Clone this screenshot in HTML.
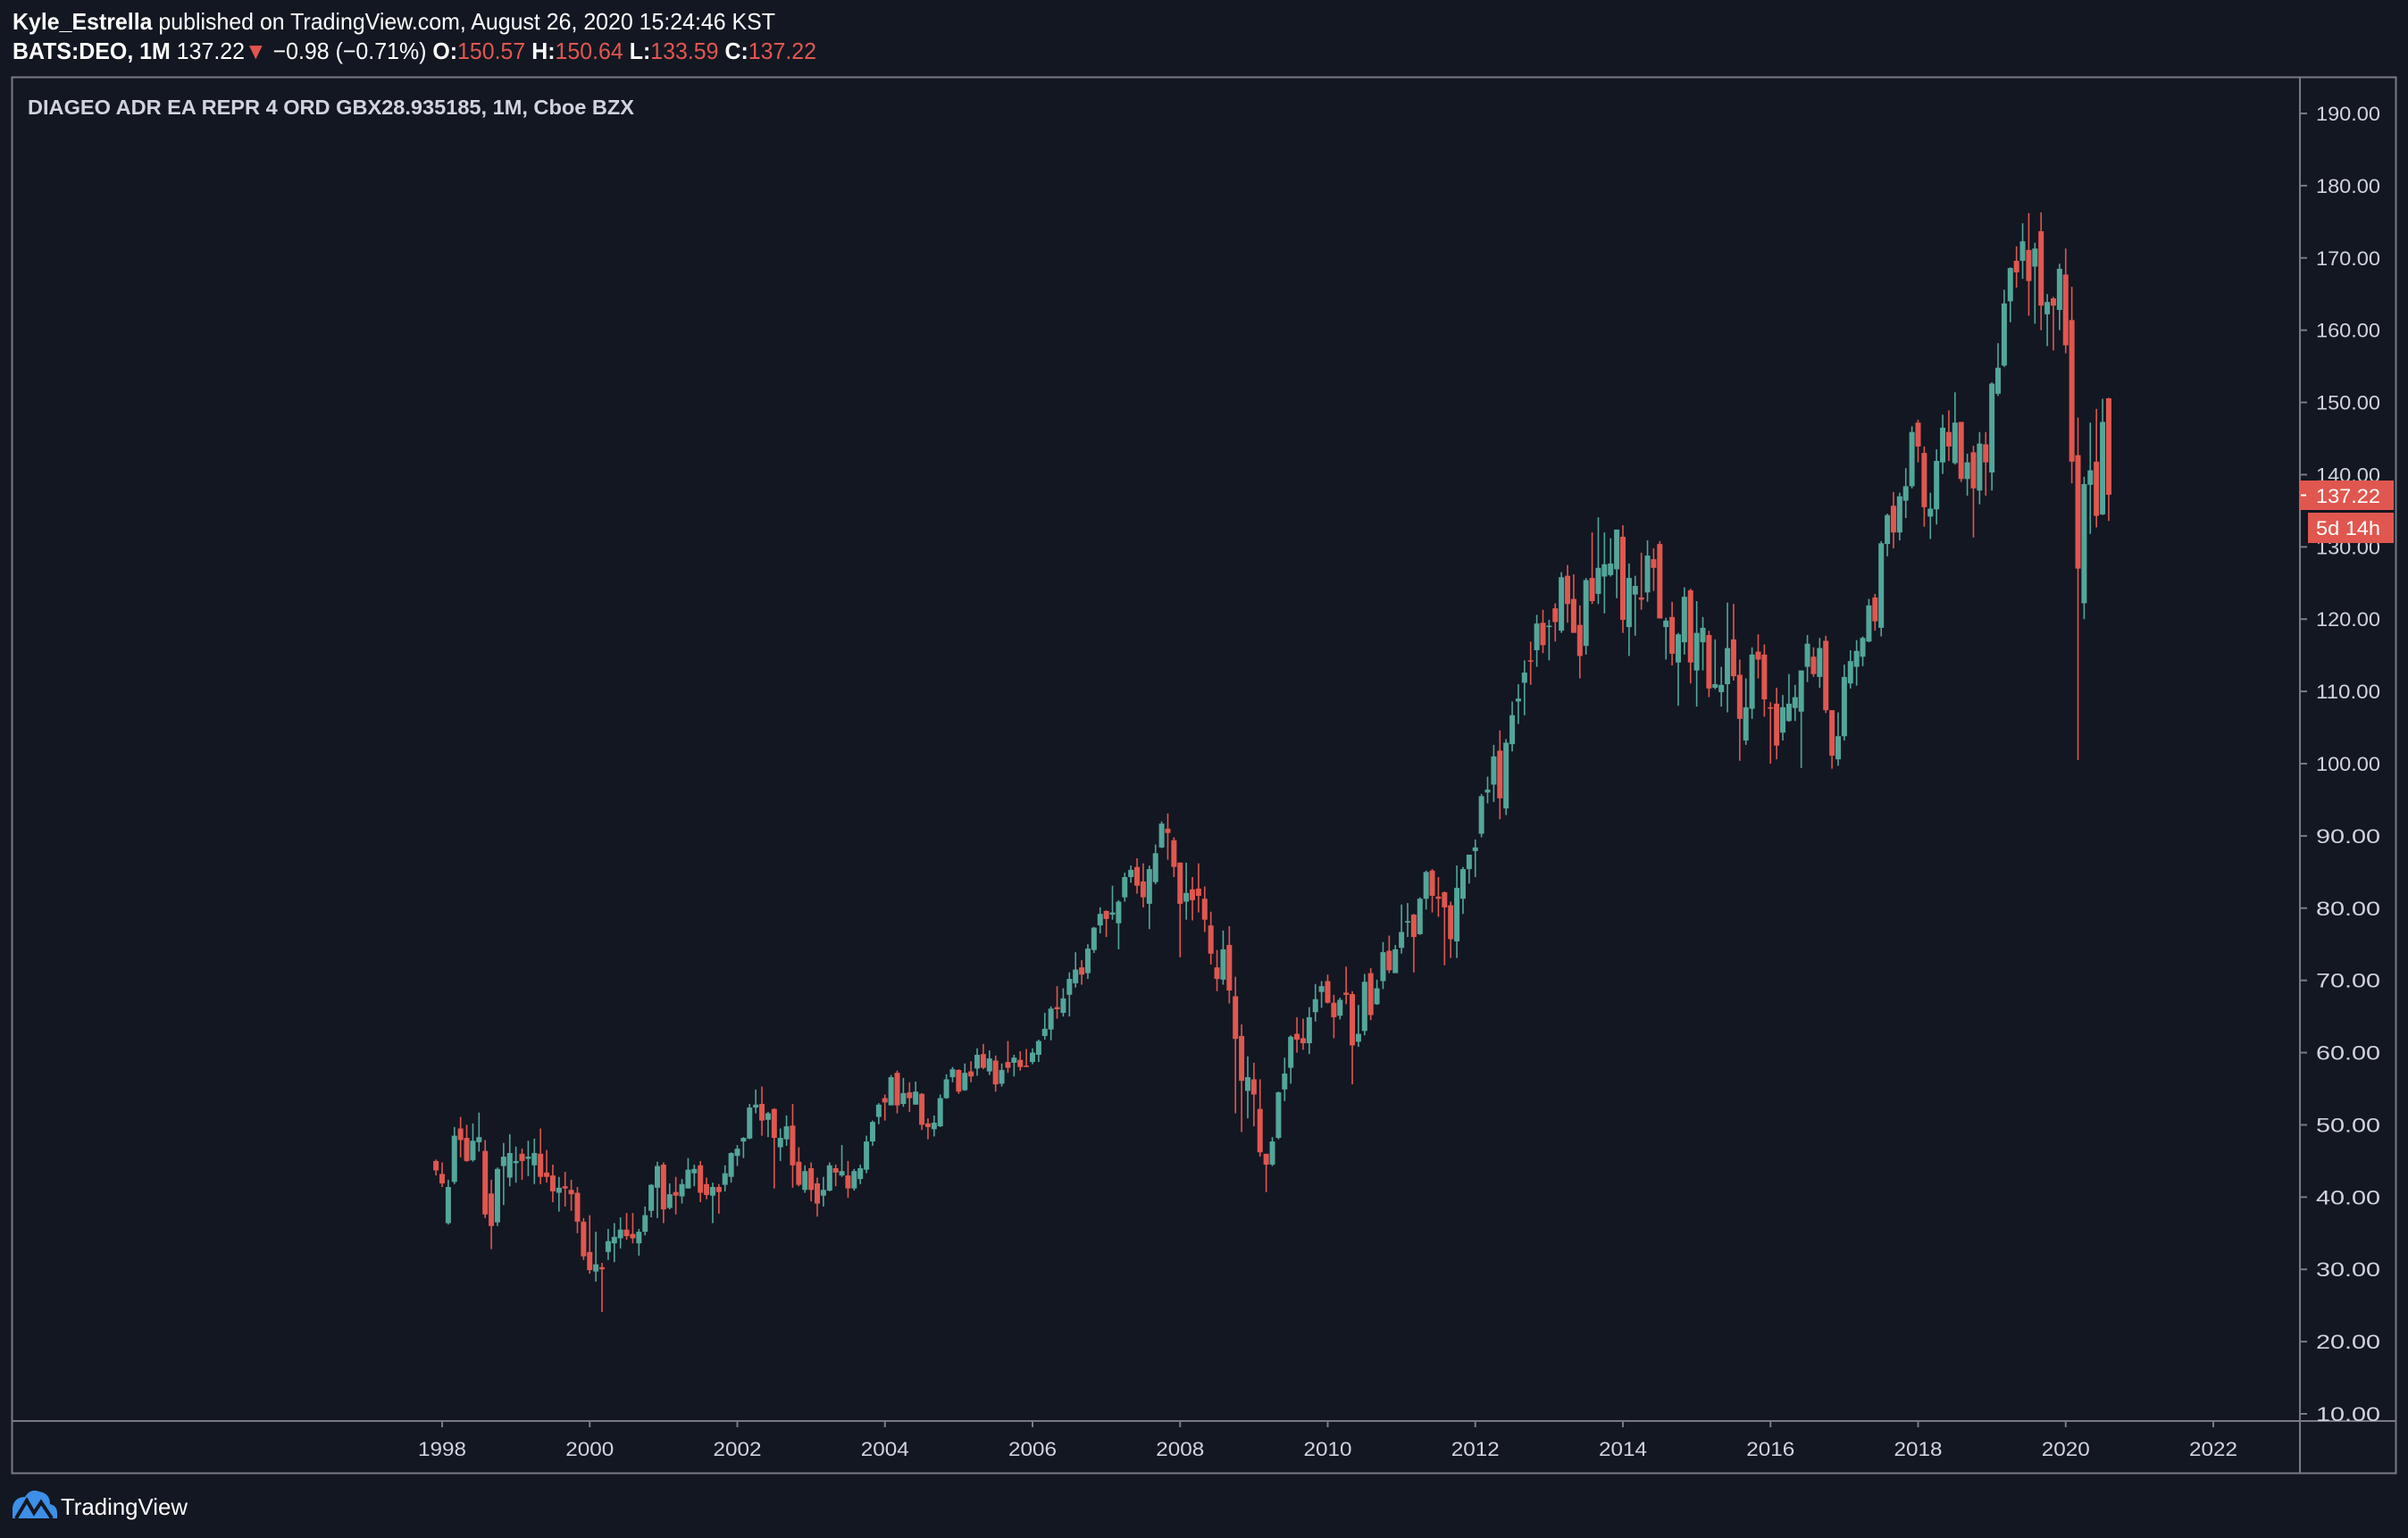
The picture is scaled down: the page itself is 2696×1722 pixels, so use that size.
<!DOCTYPE html>
<html>
<head>
<meta charset="utf-8">
<style>
  html,body{margin:0;padding:0;background:#131722;}
  svg{display:block;}
  text{font-family:"Liberation Sans",sans-serif;}
</style>
</head>
<body>
<svg id="chart" width="2696" height="1722" viewBox="0 0 2696 1722" xmlns="http://www.w3.org/2000/svg">
  <rect x="0" y="0" width="2696" height="1722" fill="#131722"/>
  <text x="14" y="33" font-size="26" fill="#ffffff" textLength="854" lengthAdjust="spacingAndGlyphs"><tspan font-weight="bold">Kyle_Estrella</tspan> published on TradingView.com, August 26, 2020 15:24:46 KST</text>
  <text x="14" y="66" font-size="26" fill="#ffffff" textLength="900" lengthAdjust="spacingAndGlyphs"><tspan font-weight="bold">BATS:DEO, 1M</tspan> 137.22<tspan fill="#e0574f">▼</tspan> −0.98 (−0.71%) <tspan font-weight="bold">O:</tspan><tspan fill="#e0574f">150.57</tspan> <tspan font-weight="bold">H:</tspan><tspan fill="#e0574f">150.64</tspan> <tspan font-weight="bold">L:</tspan><tspan fill="#e0574f">133.59</tspan> <tspan font-weight="bold">C:</tspan><tspan fill="#e0574f">137.22</tspan></text>

  <rect x="13.5" y="86.5" width="2669" height="1563" fill="#131722" stroke="#787b86" stroke-width="2"/>
  <line x1="2575" y1="86" x2="2575" y2="1650" stroke="#787b86" stroke-width="2"/>
  <line x1="14" y1="1591" x2="2683" y2="1591" stroke="#787b86" stroke-width="2"/>

  <text x="31" y="128" font-size="23" font-weight="bold" fill="#d1d4dc" textLength="679" lengthAdjust="spacingAndGlyphs">DIAGEO ADR EA REPR 4 ORD GBX28.935185, 1M, Cboe BZX</text>

  <g id="price-axis"></g>
  <g id="time-axis"></g>
  <g id="candles"></g>

  <g>
    <rect x="2574" y="538" width="106" height="33" fill="#e0574f"/>
    <line x1="2576" y1="554.5" x2="2582" y2="554.5" stroke="#ffffff" stroke-width="2"/>
    <text x="2593" y="563" font-size="22" fill="#ffffff" textLength="72" lengthAdjust="spacingAndGlyphs">137.22</text>
  </g>
  <g>
    <rect x="2584" y="574" width="96" height="34" fill="#e0574f"/>
    <text x="2593" y="599" font-size="22" fill="#ffffff" textLength="72" lengthAdjust="spacingAndGlyphs">5d 14h</text>
  </g>

  <g>
    <path d="M14 1700 L14 1688 Q16 1676 28 1676 Q34 1666 44 1670 Q56 1672 56 1684 Q64 1686 64 1694 L64 1700 Z" fill="#3d8fe8"/>
    <path d="M18 1700 L30 1680 L38 1694 L46 1682 L58 1700" fill="none" stroke="#131722" stroke-width="4"/>
    <text x="68" y="1696" font-size="26" fill="#ffffff" textLength="142" lengthAdjust="spacingAndGlyphs">TradingView</text>
  </g>
</svg>
<script>
const priceTicks = [10,20,30,40,50,60,70,80,90,100,110,120,130,140,150,160,170,180,190];
const yearTicks = [1998,2000,2002,2004,2006,2008,2010,2012,2014,2016,2018,2020,2022];
const opens = [45.0,43.2,36.4,42.1,49.5,48.2,45.1,47.6,46.4,40.5,36.5,44.3,42.7,44.7,46.0,45.3,44.4,46.0,43.4,43.0,40.6,41.5,41.0,40.6,36.6,32.4,29.7,30.3,32.4,33.6,34.3,35.5,34.9,33.6,35.2,38.1,41.3,44.5,38.5,40.7,40.1,41.2,43.3,44.4,41.8,40.2,41.4,41.7,42.8,45.7,47.7,48.1,52.4,52.9,50.7,52.2,46.9,48.0,49.9,44.9,41.0,44.0,41.9,40.2,40.9,44.0,43.0,43.0,41.2,42.5,43.8,47.7,51.1,
53.7,52.7,57.2,52.9,54.5,52.8,54.3,50.2,49.4,49.8,53.7,56.6,57.6,54.8,57.4,57.8,59.8,57.4,58.9,55.7,58.7,58.6,59.0,58.2,58.7,59.7,62.3,63.2,66.3,65.5,68.0,69.6,71.8,71.0,74.2,77.6,79.6,79.1,77.9,81.5,84.3,85.7,83.7,80.6,83.6,88.4,91.0,89.4,86.3,80.9,82.6,82.7,81.3,77.6,71.8,70.1,74.9,67.8,62.3,54.7,56.3,52.2,46.0,44.5,48.2,54.9,
57.9,62.6,62.0,61.3,65.6,68.4,69.9,66.9,65.1,68.3,68.1,61.5,63.0,71.0,66.7,69.9,74.1,71.0,74.5,78.0,79.1,76.4,81.3,85.2,81.6,82.2,80.4,75.4,81.3,85.4,87.9,90.3,96.0,97.1,101.8,93.8,102.7,108.6,111.2,114.3,115.7,119.5,118.9,
121.5,118.4,126.0,122.8,119.2,116.3,125.7,123.5,125.9,126.1,126.9,131.4,118.9,123.4,123.0,123.7,128.3,130.4,118.9,120.3,114.0,116.8,124.0,112.9,116.8,117.8,110.5,109.9,111.0,117.2,112.3,103.2,107.6,115.5,115.1,107.8,108.3,104.3,105.9,107.7,107.2,113.4,114.8,112.0,117.0,107.4,100.6,103.8,111.1,113.4,114.8,116.9,123.0,118.8,130.4,
135.7,132.0,136.4,138.4,147.2,143.0,134.2,135.2,141.7,145.9,141.6,147.3,139.4,143.1,137.8,144.2,140.3,151.2,155.1,164.0,169.6,169.6,171.1,168.8,173.7,162.2,164.4,162.8,167.7,161.4,142.7,122.2,138.6,141.8,134.5,150.57];
const closes = [43.7,41.9,41.4,48.5,47.9,45.0,47.8,48.3,37.6,36.0,43.9,45.6,46.1,45.0,45.0,45.6,46.1,42.8,42.8,40.8,41.3,41.2,40.4,36.6,31.8,29.9,30.7,30.0,33.9,34.5,35.5,34.6,34.3,35.2,37.5,41.7,44.3,38.3,40.4,40.2,41.8,43.8,43.9,40.6,40.3,41.4,40.7,43.3,46.1,46.7,48.2,52.4,52.8,50.6,51.6,48.2,48.2,49.8,44.4,41.7,43.6,41.0,39.1,41.0,44.4,43.4,43.6,41.2,43.6,44.0,47.7,50.4,52.8,
53.1,56.6,52.7,54.4,53.7,54.6,50.0,49.7,50.3,53.7,56.3,57.7,54.6,57.2,56.7,59.7,57.9,59.2,55.6,57.6,57.9,59.3,58.0,58.1,60.0,61.6,63.3,66.1,66.0,67.5,70.2,71.5,70.8,74.4,77.3,79.2,78.5,79.4,80.9,84.3,85.3,83.1,81.5,85.4,87.6,91.7,90.4,85.7,80.6,82.1,81.1,81.7,78.4,73.7,70.2,74.3,68.6,61.9,56.1,56.6,54.2,46.2,44.5,47.7,54.5,57.1,
62.2,61.8,61.3,64.9,67.4,69.2,66.9,64.9,67.3,68.0,61.0,62.6,69.8,65.2,68.9,73.9,71.4,74.3,76.7,78.2,76.0,81.3,85.0,81.7,81.3,80.1,75.7,82.8,85.4,87.4,88.4,95.5,96.4,101.0,95.2,102.9,106.7,109.0,112.6,114.2,119.4,116.4,119.1,
119.6,125.8,122.1,118.1,114.9,125.4,122.5,127.1,127.6,127.7,132.4,119.9,125.7,124.6,122.7,128.8,127.1,120.1,119.8,115.2,117.9,123.1,114.0,118.1,118.8,110.4,111.0,110.9,116.0,112.1,106.2,107.8,115.1,114.4,108.9,107.6,102.5,107.8,108.3,109.2,112.9,116.6,112.4,116.0,107.4,101.1,103.8,112.0,114.2,115.6,117.4,121.9,119.7,130.5,134.4,
132.0,137.0,138.4,145.9,143.9,135.5,135.3,141.9,146.5,143.9,147.2,139.4,141.7,138.1,144.3,141.7,152.6,154.8,163.7,168.6,168.0,172.3,166.8,171.3,163.4,163.9,163.4,168.5,157.9,141.8,127.0,138.7,140.6,134.3,147.3,137.22];
const highs = [45.2,44.8,42.4,49.7,51.1,50.0,50.2,51.7,47.9,42.4,44.1,47.5,48.7,47.0,46.7,47.8,48.1,49.5,46.5,44.5,42.8,43.5,42.4,41.4,37.1,37.5,35.2,30.9,35.6,36.4,37.2,37.8,37.8,35.6,38.7,41.8,44.9,44.8,41.9,42.8,42.5,45.4,44.5,45.0,42.7,42.0,41.8,44.4,46.2,47.2,48.3,52.9,54.9,55.3,51.8,52.3,49.5,51.3,52.9,46.9,44.4,44.8,42.7,42.8,44.8,44.5,47.2,45.0,43.9,44.5,48.5,50.6,53.0,
54.2,56.9,57.5,56.5,55.9,56.0,54.4,50.9,51.3,54.2,57.0,58.0,57.7,58.5,58.8,60.6,61.2,60.3,59.6,58.5,61.6,59.7,60.2,60.5,60.6,61.8,65.5,66.4,69.2,68.9,71.1,73.9,72.8,75.0,77.4,80.1,79.7,83.1,81.1,84.9,85.9,86.9,86.2,85.9,88.8,92.0,93.1,89.8,86.3,86.3,84.3,86.2,83.0,79.5,74.2,76.9,77.5,70.5,63.9,59.5,58.6,56.3,46.0,48.3,54.6,59.3,
62.4,64.9,64.7,66.3,69.5,69.9,70.8,68.0,67.6,71.9,68.5,66.6,70.9,71.7,70.1,75.3,76.2,74.9,80.5,80.7,79.2,81.5,85.2,85.4,84.3,82.3,80.9,85.9,85.7,87.4,89.5,95.8,98.2,102.6,104.6,103.4,108.6,111.0,114.3,116.9,120.6,121.3,119.9,
122.2,126.5,127.5,126.2,121.9,125.7,132.0,134.1,132.0,131.2,132.4,133.0,127.7,126.0,129.2,130.9,129.8,130.8,120.2,122.4,118.1,124.4,124.2,122.5,120.3,118.4,117.2,113.4,122.3,122.1,114.4,111.8,116.1,117.9,116.5,108.5,110.5,109.5,112.4,110.9,112.9,117.8,116.1,117.4,117.7,107.4,107.1,113.7,115.7,117.1,117.6,122.8,123.5,130.8,134.6,
137.6,137.5,140.9,146.7,147.6,143.9,137.5,143.5,148.3,148.9,151.4,147.3,142.9,144.0,145.9,145.9,152.8,158.2,165.6,168.7,171.6,174.8,176.2,172.1,176.3,165.0,164.6,169.2,171.3,166.0,147.9,139.7,147.2,149.1,150.5,150.64];
const lows = [43.0,41.4,36.2,41.8,45.5,44.9,44.9,46.3,37.1,32.8,36.0,38.9,41.5,42.0,42.4,42.9,41.8,41.8,42.0,39.3,38.0,38.7,38.1,35.0,31.3,29.4,28.3,24.1,31.3,31.0,32.9,34.1,33.6,31.9,34.7,37.2,37.1,36.4,38.3,37.6,39.1,41.2,41.5,39.3,39.7,36.4,37.7,40.8,42.0,44.3,45.4,48.0,51.6,48.5,48.3,41.2,45.0,47.1,41.3,41.5,40.6,39.4,37.3,38.7,40.8,41.5,42.8,39.9,40.9,41.8,43.3,47.1,50.1,
50.6,52.7,51.6,52.5,51.8,52.8,49.3,48.0,48.4,49.7,53.6,55.9,54.3,54.7,55.9,56.8,57.7,56.9,54.6,55.3,57.2,56.7,57.5,58.0,58.4,58.7,61.8,61.7,64.7,65.0,65.0,69.0,69.4,70.2,73.8,76.5,76.0,78.4,74.3,80.9,83.5,82.0,80.1,77.1,83.3,88.3,86.7,84.3,73.2,78.4,78.3,79.4,76.7,72.2,68.5,69.4,66.8,51.6,49.0,50.9,49.8,45.6,40.7,44.3,48.0,53.3,
55.7,60.0,60.4,59.8,64.3,66.2,66.8,62.0,64.6,66.7,55.6,60.8,62.4,64.5,66.6,68.8,71.0,71.0,73.7,76.0,71.1,76.3,79.8,79.4,78.8,72.1,73.1,73.1,79.2,83.4,84.3,89.8,94.5,94.7,92.3,92.9,101.7,105.5,106.7,110.9,113.4,115.3,114.3,
116.9,118.1,119.5,118.1,111.8,115.1,122.1,122.1,120.8,125.9,122.9,118.1,114.9,117.7,121.3,122.4,123.9,120.1,114.4,113.6,108.0,115.1,111.1,107.9,112.9,109.2,110.3,107.9,107.1,111.5,100.4,102.6,106.2,111.8,106.5,100.0,100.6,103.2,105.8,105.9,99.4,111.3,112.0,110.5,107.0,99.3,99.7,103.2,110.4,110.8,113.5,116.8,118.4,117.6,128.7,
129.8,130.9,134.0,138.1,141.7,132.8,131.1,133.1,140.1,141.9,141.4,139.0,137.1,131.3,135.9,137.1,137.8,150.9,154.9,161.1,165.9,167.1,162.0,160.9,160.0,157.8,157.2,160.0,156.8,138.8,100.5,120.0,131.8,132.7,134.4,133.59];
const firstMonth = 1997 + 11/12; // Dec 1997

const NS = 'http://www.w3.org/2000/svg';
function yScale(p){ return 127 + (190 - p) * (1456 / 180); }
function xYear(t){ return 495 + (t - 1998) * (1983 / 24); }
function xIndex(i){ return xYear(firstMonth + i / 12); }
function mk(tag, attrs){ const e = document.createElementNS(NS, tag); for (const k in attrs) e.setAttribute(k, attrs[k]); return e; }

const pa = document.getElementById('price-axis');
priceTicks.forEach(function(v){
  const y = yScale(v);
  const t = mk('line', {x1: 2576, x2: 2583, y1: y, y2: y, stroke: '#787b86', 'stroke-width': 2});
  
  
  pa.appendChild(t);
  const lb = mk('text', {x: 2593, y: y + 8, 'font-size': 22, fill: '#d1d4dc', textLength: 72, lengthAdjust: 'spacingAndGlyphs'});
  lb.textContent = v.toFixed(2);
  
  
  pa.appendChild(lb);
});

const ta = document.getElementById('time-axis');
yearTicks.forEach(function(yr){
  const x = xYear(yr);
  const t = mk('line', {x1: x, x2: x, y1: 1592, y2: 1598, stroke: '#787b86', 'stroke-width': 2});
  
  
  ta.appendChild(t);
  const lb = mk('text', {x: x, y: 1630, 'font-size': 22, fill: '#d1d4dc', 'text-anchor': 'middle', textLength: 54, lengthAdjust: 'spacingAndGlyphs'});
  lb.textContent = String(yr);
  
  
  ta.appendChild(lb);
});

const cg = document.getElementById('candles');
closes.forEach(function(c, i){
  const o = opens[i], h = highs[i], l = lows[i];
  const up = c >= o;
  const col = up ? '#53a69a' : '#e0574f';
  const x = xIndex(i);
  const g = mk('g', {});
  
  
  const w = mk('rect', {x: x - 0.8, y: yScale(h), width: 1.6, height: Math.max(1, yScale(l) - yScale(h)), fill: col});
  
  
  g.appendChild(w);
  const top = yScale(Math.max(o, c)), bot = yScale(Math.min(o, c));
  const b = mk('rect', {x: x - 3, y: top, width: 6, height: Math.max(1.5, bot - top), fill: col});
  
  
  g.appendChild(b);
  cg.appendChild(g);
});
</script>
</body>
</html>
